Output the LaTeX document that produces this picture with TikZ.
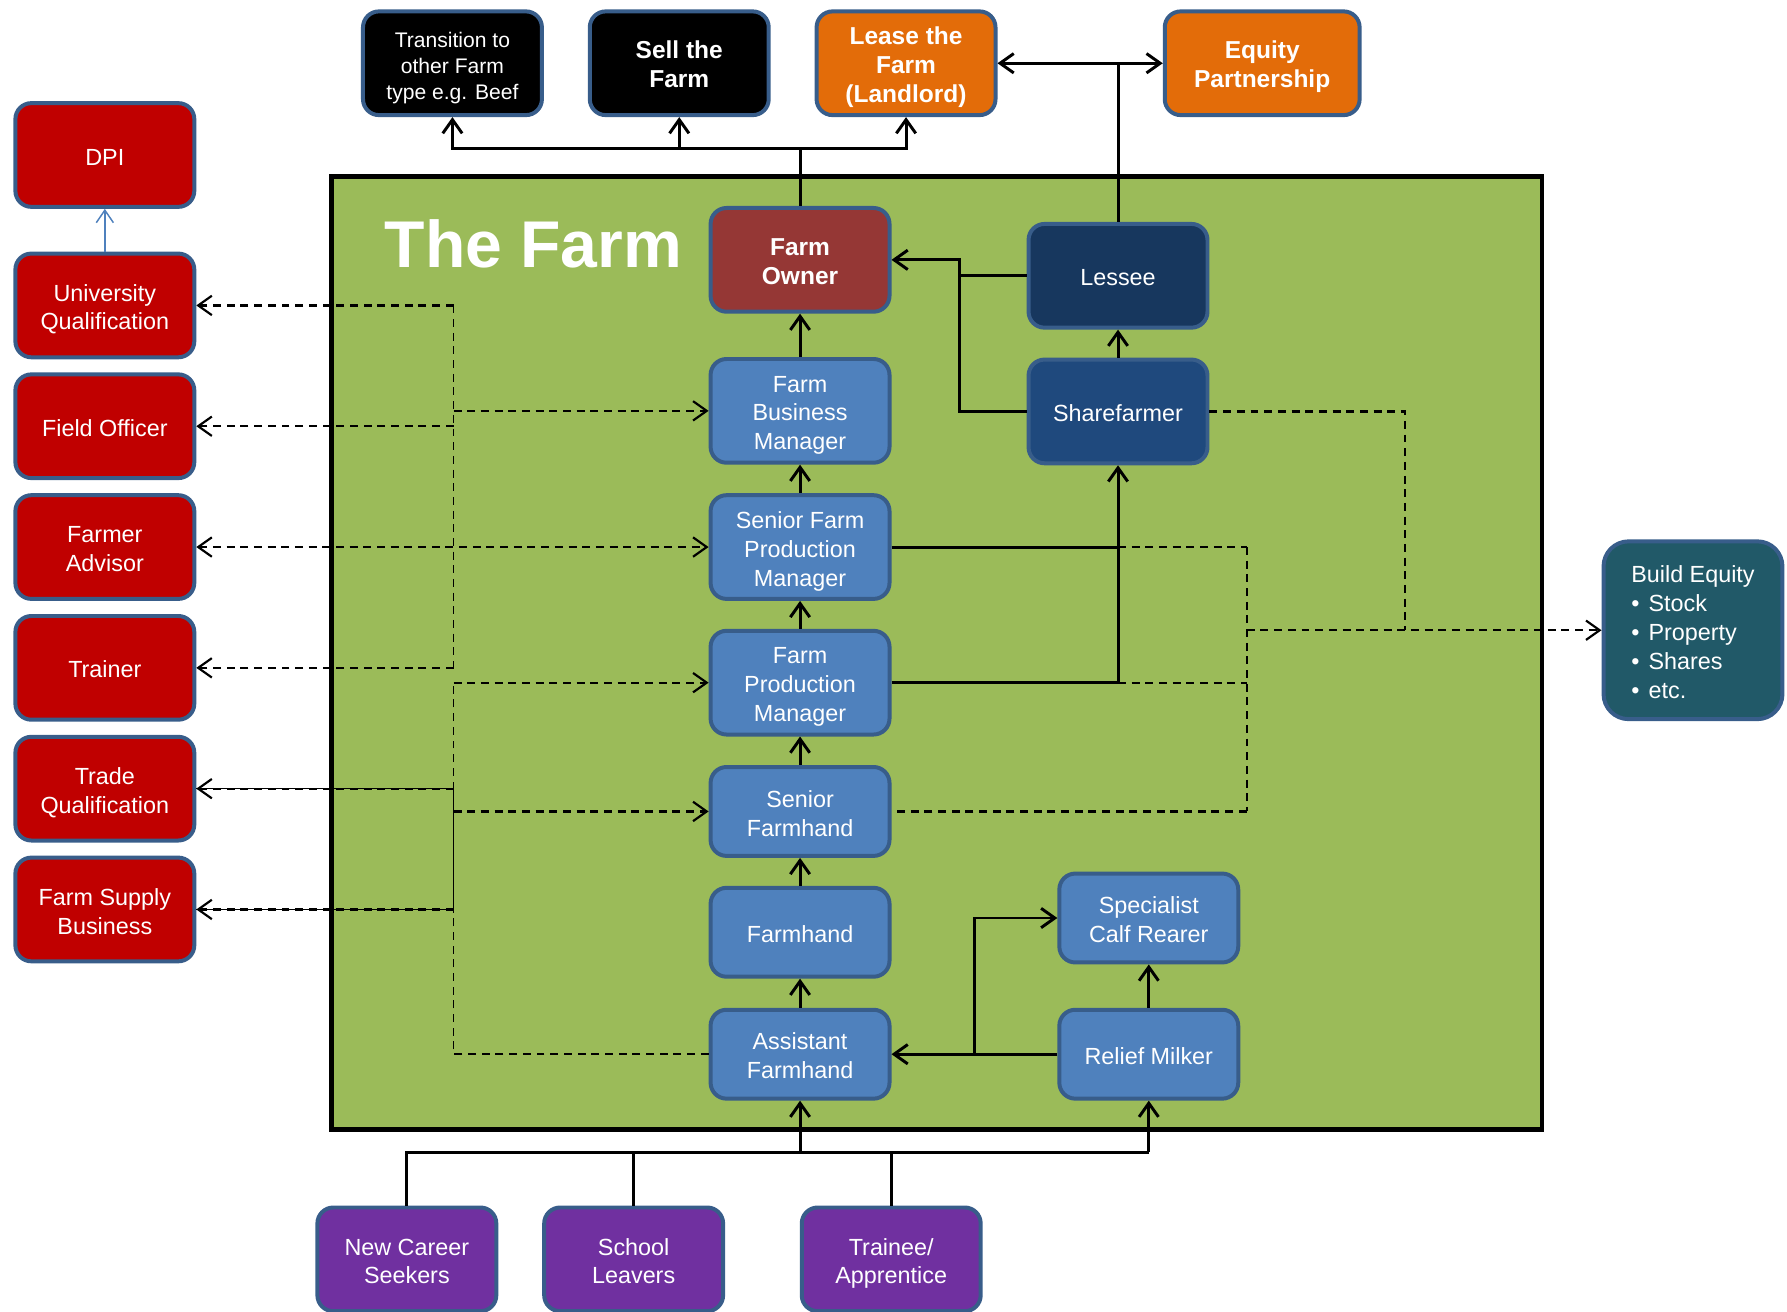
\documentclass[tikz,border=0pt]{standalone}
\usepackage{fontspec}
\setmainfont{Liberation Sans}
\usetikzlibrary{arrows.meta}
\definecolor{bordc}{HTML}{385D8A}
\definecolor{redb}{HTML}{C00000}
\definecolor{orangeb}{HTML}{E36C09}
\definecolor{blueb}{HTML}{4F81BD}
\definecolor{purpleb}{HTML}{7030A0}
\definecolor{farmgreen}{HTML}{9BBB59}
\definecolor{ownerred}{HTML}{953735}
\definecolor{lesseeblue}{HTML}{17375E}
\definecolor{shareblue}{HTML}{1F497D}
\definecolor{tealb}{HTML}{215968}
\newcommand{\Tp}{\rule{0pt}{24.2pt}}
\newcommand{\Bt}{\rule[-6.4pt]{0pt}{6.4pt}}
\tikzset{
  box/.style={draw=bordc, line width=3.5pt, rounded corners=14pt,
    minimum width=157pt, minimum height=91pt, align=center, text=white,
    inner sep=2pt, font=\fontsize{20.5}{25.3}\selectfont},
  boldbox/.style={box, font=\fontsize{21.5}{25.3}\selectfont\bfseries},
  lowbox/.style={box, minimum height=78pt},
  arr/.style={-{Straight Barb[length=12pt,width=17pt]}},
  darr/.style={{Straight Barb[length=12pt,width=17pt]}-{Straight Barb[length=12pt,width=17pt]}},
  conn/.style={draw=black, line width=2.6pt},
  dsh/.style={draw=black, line width=1.9pt, dash pattern=on 7pt off 5pt},
  vdsh/.style={draw=black, line width=1.4pt, dash pattern=on 7pt off 5pt},
  thinsolid/.style={draw=black, line width=1pt},
}
\begin{document}
\begin{tikzpicture}[x=1pt,y=-1pt]
\useasboundingbox (0,0) rectangle (1568,1151);
% farm area
\draw[line width=4pt, fill=farmgreen] (291,155) rectangle (1353,991);
\node[anchor=base west, text=white, font=\fontsize{58}{60}\selectfont\bfseries] (title) at (334,235) {The Farm};

% left column
\node[box, fill=redb] (dpi) at (92,136) {\Tp DPI\Bt};
\node[box, fill=redb] (uni) at (92,268) {\Tp University\\Qualification\Bt};
\node[box, fill=redb] (field) at (92,374) {\Tp Field Officer\Bt};
\node[box, fill=redb] (advisor) at (92,480) {\Tp Farmer\\Advisor\Bt};
\node[box, fill=redb] (trainer) at (92,586) {\Tp Trainer\Bt};
\node[box, fill=redb] (trade) at (92,692) {\Tp Trade\\Qualification\Bt};
\node[box, fill=redb] (supply) at (92,798) {\Tp Farm Supply\\Business\Bt};

% top row
\node[box, fill=black, font=\fontsize{18.5}{22.5}\selectfont] (trans) at (397,55.5) {\Tp Transition to\\other Farm\\type e.g. Beef\Bt};
\node[boldbox, fill=black] (sell) at (596,55.5) {\Tp Sell the\\Farm\Bt};
\node[boldbox, fill=orangeb] (lease) at (795,55.5) {\Tp Lease the\\Farm\\(Landlord)\Bt};
\node[boldbox, fill=orangeb, minimum width=171pt] (equity) at (1107.5,55.5) {\Tp Equity\\Partnership\Bt};

% farm nodes
\node[boldbox, fill=ownerred] (owner) at (702,228) {\Tp Farm\\Owner\Bt};
\node[box, fill=lesseeblue] (lessee) at (981,242) {\Tp Lessee\Bt};
\node[box, fill=blueb] (fbm) at (702,360.5) {\Tp Farm\\Business\\Manager\Bt};
\node[box, fill=shareblue] (share) at (981,361) {\Tp Sharefarmer\Bt};
\node[box, fill=blueb] (sfpm) at (702,480) {\Tp Senior Farm\\Production\\Manager\Bt};
\node[box, fill=blueb] (fpm) at (702,599) {\Tp Farm\\Production\\Manager\Bt};
\node[lowbox, fill=blueb] (sfh) at (702,712) {\Tp Senior\\Farmhand\Bt};
\node[lowbox, fill=blueb] (fh) at (702,818) {\Tp Farmhand\Bt};
\node[lowbox, fill=blueb] (afh) at (702,925) {\Tp Assistant\\Farmhand\Bt};
\node[lowbox, fill=blueb] (calf) at (1008,805.5) {\Tp Specialist\\Calf Rearer\Bt};
\node[lowbox, fill=blueb] (relief) at (1008,925) {\Tp Relief Milker\Bt};

% bottom row
\node[box, fill=purpleb] (newc) at (357,1105) {\Tp New Career\\Seekers\Bt};
\node[box, fill=purpleb] (school) at (556,1105) {\Tp School\\Leavers\Bt};
\node[box, fill=purpleb] (trainee) at (782,1105) {\Tp Trainee/\\Apprentice\Bt};

% build equity
\node[box, fill=tealb, minimum height=156pt, align=left, rounded corners=22pt] (build) at (1485.5,553)
  {\Tp Build Equity\\\textbullet\hspace{8pt}Stock\\\textbullet\hspace{8pt}Property\\\textbullet\hspace{8pt}Shares\\\textbullet\hspace{8pt}etc.\Bt};

% ---- solid connectors ----
\coordinate (top) at (702,130);
\draw[conn] (owner.north) -- (top);
\draw[conn, arr] (top) -| (trans.south);
\draw[conn, arr] (top) -| (lease.south);
\draw[conn, arr] (sell.south |- top) -- (sell.south);
\draw[conn, darr] (lease.east) -- (equity.west);
\draw[conn] (lessee.north) -- (lessee.north |- lease.east);

\coordinate (j2) at (842,228);
\draw[conn, arr] (share.west) -| (j2) -- (owner.east);
\draw[conn] (lessee.west) -- (lessee.west -| j2);
\draw[conn, arr] (share.north) -- (lessee.south);

\draw[conn, arr] (fbm.north) -- (owner.south);
\draw[conn, arr] (sfpm.north) -- (fbm.south);
\draw[conn, arr] (fpm.north) -- (sfpm.south);
\draw[conn, arr] (sfh.north) -- (fpm.south);
\draw[conn, arr] (fh.north) -- (sfh.south);
\draw[conn, arr] (afh.north) -- (fh.south);

\draw[conn] (sfpm.east) -- (sfpm.east -| share.south);
\draw[conn, arr] (fpm.east) -| (share.south);

\coordinate (j4) at (855,925);
\draw[conn, arr] (relief.west) -- (afh.east);
\draw[conn, arr] (j4) |- (calf.west);
\draw[conn, arr] (relief.north) -- (calf.south);

\coordinate (bl) at (357,1011);
\draw[conn] (newc.north) |- (relief.south |- bl);
\draw[conn, arr] (relief.south |- bl) -- (relief.south);
\draw[conn, arr] (afh.south |- bl) -- (afh.south);
\draw[conn] (school.north) -- (school.north |- bl);
\draw[conn] (trainee.north) -- (trainee.north |- bl);

\draw[line width=1.3pt, draw=blueb, -{Straight Barb[length=11pt,width=15pt]}] (uni.north) -- (dpi.south);

% ---- dashed connectors, left upper ----
\coordinate (v1) at (398,268);
\coordinate (v2) at (398,586);
\draw[vdsh] (v1) -- (v2);
\draw[dsh, arr] (v1) -- (uni.east);
\draw[dsh, arr] (field.east -| v1) -- (field.east);
\draw[dsh, arr] (fbm.west -| v1) -- (fbm.west);
\draw[dsh, darr] (advisor.east) -- (sfpm.west);
\draw[dsh, arr] (v2) -- (trainer.east);

% ---- dashed connectors, left lower ----
\coordinate (v3) at (398,599);
\coordinate (v4) at (398,925);
\draw[vdsh] (afh.west) -- (v4) -- (v3);
\draw[dsh, arr] (v3) -- (fpm.west);
\draw[dsh, arr] (sfh.west -| v3) -- (sfh.west);
\draw[thinsolid] (trade.east) -| (v3 |- supply.east) -- (supply.east);
\draw[dsh, arr] (trade.east -| v3) -- (trade.east);
\draw[dsh, arr] (supply.east -| v3) -- (supply.east);

% ---- dashed connectors, right ----
\coordinate (r1) at (1094,480);
\coordinate (r2) at (1094,712);
\coordinate (r3) at (1233,553);
\coordinate (r4) at (1094,553);
\draw[dsh] (sfpm.east -| share.south) -- (r1);
\draw[vdsh] (r1) -- (r2);
\draw[dsh] (r2) -- (sfh.east);
\draw[dsh] (fpm.east -| share.south) -- (fpm.east -| r1);
\draw[dsh] (share.east) -| (r3);
\draw[dsh, arr] (r4) -- (build.west);
\end{tikzpicture}
\end{document}
